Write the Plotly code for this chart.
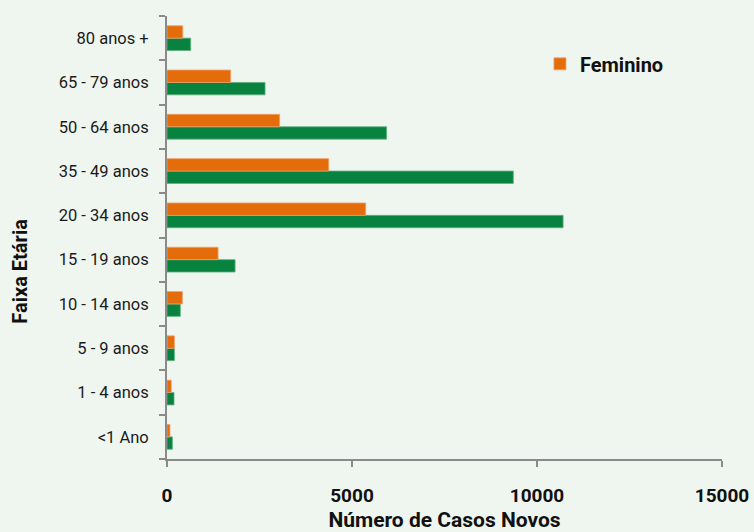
import plotly.graph_objects as go

categories = ["<1 Ano", "1 - 4 anos", "5 - 9 anos", "10 - 14 anos", "15 - 19 anos",
              "20 - 34 anos", "35 - 49 anos", "50 - 64 anos", "65 - 79 anos", "80 anos +"]
feminino = [80, 115, 200, 415, 1380, 5370, 4370, 3045, 1720, 425]
masculino = [145, 190, 200, 360, 1840, 10705, 9360, 5935, 2650, 640]
x_ticks = [0, 5000, 10000, 15000]

FONT = "Roboto"
BG = "#EFF6EF"

fig = go.Figure()
fig.add_trace(go.Bar(
    y=categories, x=masculino, orientation="h", name="Masculino",
    marker=dict(color="#08823F", line=dict(color="#5FB07F", width=0.8)),
    showlegend=False,
))
fig.add_trace(go.Bar(
    y=categories, x=feminino, orientation="h", name="Feminino",
    marker=dict(color="#E46C0A", line=dict(color="#F0A06A", width=0.8)),
))

fig.update_layout(
    width=754, height=532,
    margin=dict(l=167, r=32, t=16, b=73, autoexpand=False),
    paper_bgcolor=BG, plot_bgcolor=BG,
    barmode="group", bargap=0.44, bargroupgap=0,
    font=dict(family=FONT, size=16, color="#1a1a1a"),
    legend=dict(x=0.672, y=0.892, xanchor="left", yanchor="middle",
                bgcolor="rgba(0,0,0,0)", itemwidth=30,
                font=dict(family=FONT, size=20, color="#111111", weight="bold")),
    xaxis=dict(
        range=[0, 15000], tickvals=x_ticks, ticktext=[str(v) for v in x_ticks],
        automargin=False,
        showgrid=False, zeroline=False,
        showline=True, linecolor="#8a8a8a", linewidth=2,
        ticks="outside", ticklen=6, tickwidth=2, tickcolor="#8a8a8a",
        ticklabelstandoff=12,
        tickfont=dict(family=FONT, size=19, color="#111111", weight="bold"),
        title=dict(text="Número de Casos Novos", standoff=16,
                   font=dict(family=FONT, size=21, color="#111111", weight="bold")),
    ),
    yaxis=dict(
        type="category", categoryorder="array", categoryarray=categories,
        range=[-0.5, 9.5], automargin=False,
        showgrid=False, zeroline=False,
        showline=True, linecolor="#8a8a8a", linewidth=2,
        ticks="outside", ticklen=6, tickwidth=2, tickcolor="#8a8a8a",
        tickson="boundaries",
        ticklabelstandoff=13,
        tickfont=dict(family=FONT, size=16.5, color="#1a1a1a"),
        title=dict(text=""),
    ),
    annotations=[dict(
        text="Faixa Etária", textangle=-90, xref="paper", yref="paper",
        x=-0.265, y=0.425, xanchor="center", yanchor="middle", showarrow=False,
        font=dict(family=FONT, size=20, color="#111111", weight="bold"),
    )],
)

fig.write_html("out.html")
